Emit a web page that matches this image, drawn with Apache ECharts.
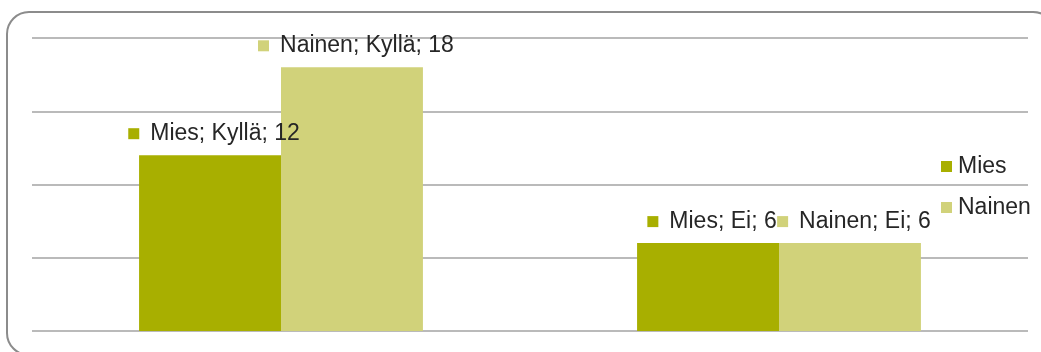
<!DOCTYPE html>
<html>
<head>
<meta charset="utf-8">
<script src="https://cdn.jsdelivr.net/npm/echarts@6/dist/echarts.min.js"></script>
<style>
  html, body { margin: 0; padding: 0; background: #ffffff; }
  #chart { width: 1041px; height: 352px; }
</style>
</head>
<body>
<div id="chart"></div>
<script>
// Answer categories and counts per gender
const categories = ['Kyllä', 'Ei'];
const miesValues = [12, 6];
const nainenValues = [18, 6];
const seriesNames = ['Mies', 'Nainen'];
const colors = ['#A8AF00', '#D1D27A'];

const chart = echarts.init(document.getElementById('chart'), null, { renderer: 'canvas' });

function makeLabel(color) {
  return {
    show: true,
    position: 'top',
    distance: 10,
    offset: [4, 0],
    formatter: p => '{m|}{t|' + p.seriesName + '; ' + p.name + '; ' + p.value + '}',
    rich: {
      m: { width: 11, height: 11, backgroundColor: color, verticalAlign: 'middle' },
      t: {
        fontFamily: 'Liberation Sans, Arial, sans-serif',
        fontSize: 23,
        color: '#262626',
        padding: [0, 0, 0, 11],
        verticalAlign: 'middle'
      }
    }
  };
}

const option = {
  backgroundColor: '#ffffff',
  animation: false,
  color: colors,
  graphic: [{
    type: 'rect',
    shape: { x: 7, y: 12, width: 1048, height: 343, r: 22 },
    style: { fill: 'none', stroke: '#8c8c8c', lineWidth: 2 },
    z: -1
  }],
  grid: { left: 32, right: 13, top: 38, bottom: 21 },
  legend: {
    orient: 'vertical',
    left: 941,
    top: 155,
    padding: 0,
    icon: 'rect',
    itemWidth: 11,
    itemHeight: 11,
    itemGap: 18,
    data: seriesNames,
    textStyle: {
      fontFamily: 'Liberation Sans, Arial, sans-serif',
      fontSize: 23,
      color: '#262626',
      padding: [0, 0, 0, 1]
    }
  },
  xAxis: {
    type: 'category',
    data: categories,
    axisLine: { show: false },
    axisTick: { show: false },
    axisLabel: { show: false }
  },
  yAxis: {
    type: 'value',
    min: 0,
    max: 20,
    interval: 5,
    axisLabel: { show: false },
    axisLine: { show: false },
    axisTick: { show: false },
    splitLine: { lineStyle: { color: '#a3a3a3', width: 1.5 } }
  },
  series: [
    {
      name: seriesNames[0],
      type: 'bar',
      data: miesValues,
      barGap: '0%',
      barCategoryGap: '43%',
      itemStyle: { color: colors[0] },
      label: makeLabel(colors[0])
    },
    {
      name: seriesNames[1],
      type: 'bar',
      data: nainenValues,
      barGap: '0%',
      barCategoryGap: '43%',
      itemStyle: { color: colors[1] },
      label: makeLabel(colors[1])
    }
  ]
};

chart.setOption(option);
</script>
</body>
</html>
